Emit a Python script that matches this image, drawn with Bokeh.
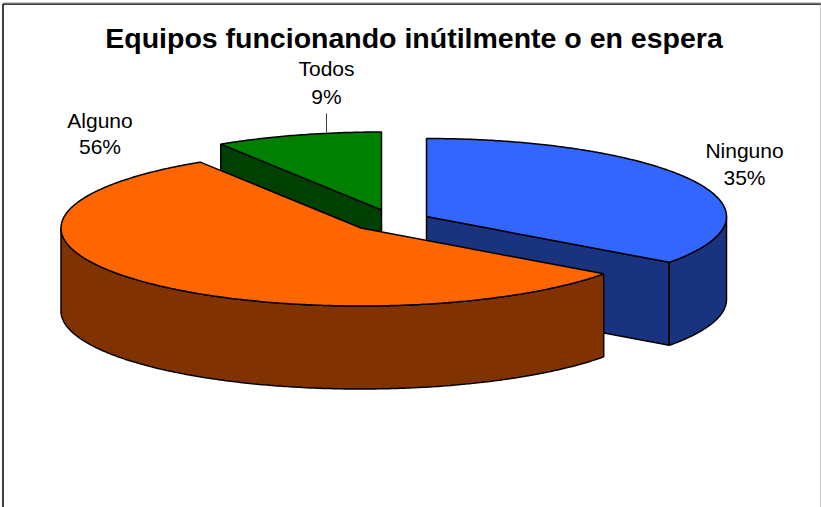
import numpy as np
from bokeh.plotting import figure
from bokeh.core.properties import value
from bokeh.embed import file_html
from bokeh.resources import INLINE

TITLE = "Equipos funcionando inútilmente o en espera"
names = ["Ninguno", "Alguno", "Todos"]
shares = [35, 56, 9]
top_colors = ["#3366FF", "#FF6600", "#008000"]
side_colors = ["#19337F", "#803300", "#004000"]

# layout of the exploded 3D pie (page pixels)
centers = [(426, 216), (360.5, 227.5), (381, 209.5)]
RX, RY, DEPTH = 300, 78, 83
label_xy = [(744, 150, 177), (99.5, 120, 146), (326, 68, 96)]
font = value("Liberation Sans")

W, H = 821, 507
p = figure(width=W, height=H, x_range=(0, W), y_range=(H, 0),
           output_backend="svg", toolbar_location=None, min_border=0,
           outline_line_color=None,
           background_fill_color="white", border_fill_color="white")
p.axis.visible = False
p.grid.visible = False

# frame
p.line([2.5, 2.5], [3.5, H], line_color="black", line_width=1.5)
p.line([2.5, 820.5], [3.5, 3.5], line_color="black", line_width=1.5)
p.line([2.5, 820.5], [2.5, 2.5], line_color="#999999", line_width=1)
p.line([820.5, 820.5], [2.5, H], line_color="#999999", line_width=1)


def arc(c, a0, a1, dy=0.0):
    t = np.radians(np.linspace(a0, a1, max(int(abs(a1 - a0)) * 2, 2)))
    return c[0] + RX * np.sin(t), c[1] - RY * np.cos(t) + dy


edges = np.concatenate([[0], np.cumsum(shares)]) * 3.6
slices = [(i, edges[i], edges[i + 1]) for i in range(len(shares))]
draw_order = [2, 0, 1]
LW = 1.5

for i in draw_order:
    _, a0, a1 = slices[i]
    c = centers[i]
    side = side_colors[i]
    # radial face turned to the viewer
    for ang in (a0, a1):
        if ang % 360 == 0 or i == 1:
            continue
        rx, ry = arc(c, ang, ang)
        rx, ry = rx[0], ry[0]
        p.patch([c[0], rx, rx, c[0]], [c[1], ry, ry + DEPTH, c[1] + DEPTH],
                fill_color=side, line_color="black", line_width=LW)
    # outer rim wall, only the part facing the viewer (90..270 degrees)
    lo, hi = max(a0, 90), min(a1, 270)
    if hi > lo:
        xa, ya = arc(c, lo, hi)
        xb, yb = arc(c, hi, lo, DEPTH)
        p.patch(np.concatenate([xa, xb]), np.concatenate([ya, yb]),
                fill_color=side, line_color="black", line_width=LW)
    # top
    xa, ya = arc(c, a0, a1)
    p.patch(np.concatenate([[c[0]], xa]), np.concatenate([[c[1]], ya]),
            fill_color=top_colors[i], line_color="black", line_width=LW)

# leader for the last label
p.line([326, 326], [113, 132], line_color="#404040", line_width=1)

p.text([413.5], [37], text=[TITLE], text_font=font, text_font_style="bold",
       text_font_size="28.5px", text_align="center", text_baseline="middle",
       text_color="black")
for n, s, (x, y1, y2) in zip(names, shares, label_xy):
    p.text([x], [y1], text=[n], text_font=font, text_font_size="21px",
           text_align="center", text_baseline="middle", text_color="black")
    p.text([x], [y2], text=[f"{s}%"], text_font=font, text_font_size="21px",
           text_align="center", text_baseline="middle", text_color="black")

open("out.html", "w").write(file_html(p, INLINE))
